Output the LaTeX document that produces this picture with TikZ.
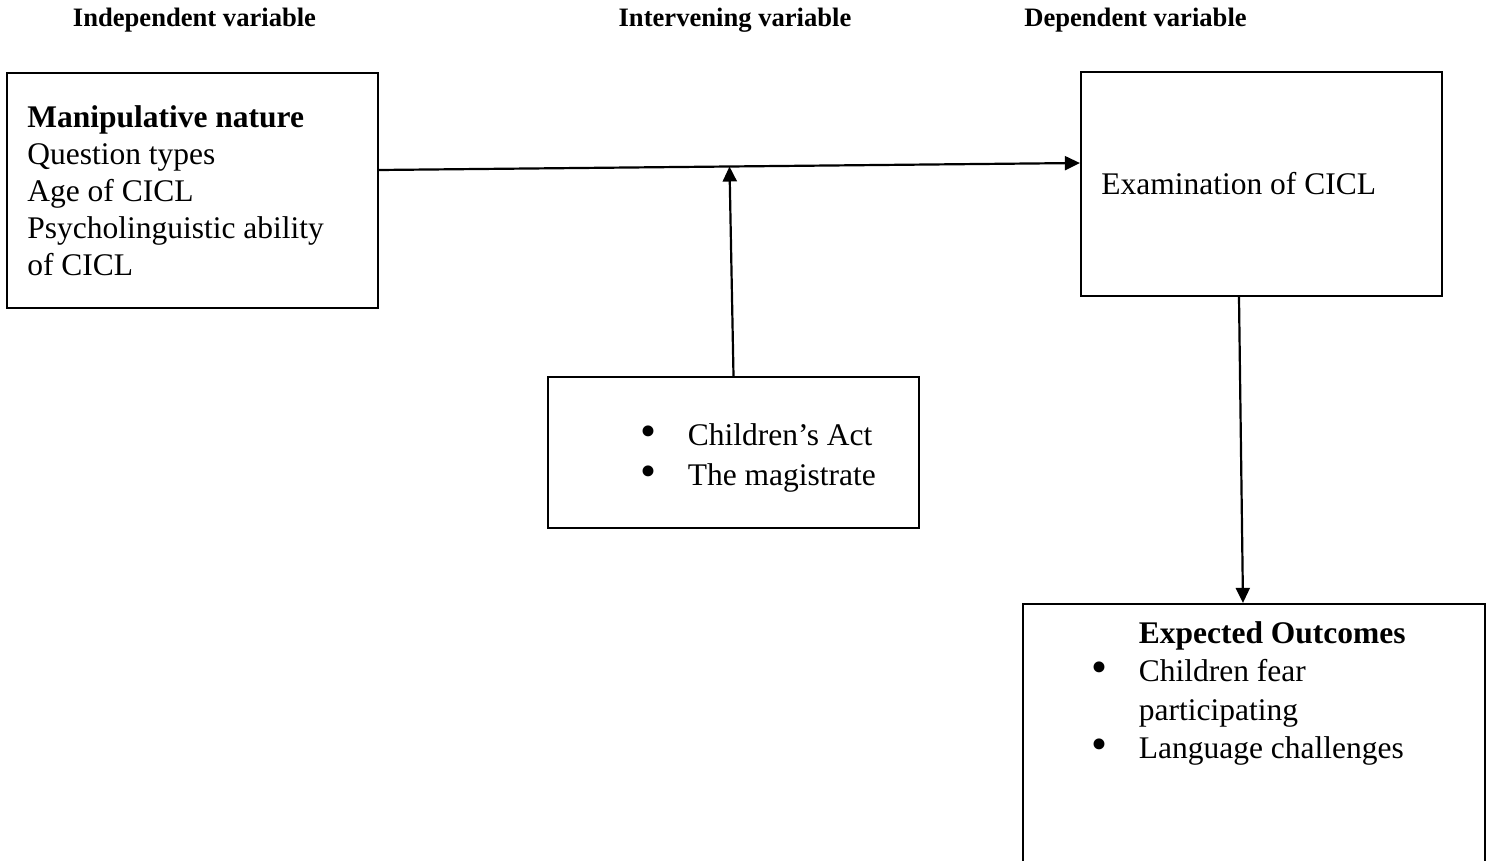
\documentclass[tikz,border=0pt]{standalone}
\usepackage{fontspec}
\setmainfont{Liberation Serif}
\usetikzlibrary{arrows.meta,positioning}

\newcommand{\itembul}{\makebox[23.5pt][l]{\raisebox{-0.6pt}{\scalebox{1.45}{\textbullet}}}}

\begin{document}
\begin{tikzpicture}[%
      x=0.5pt, y=-0.5pt,
      box/.style={draw=black, line width=1.1pt, rectangle, inner sep=0pt},
      body/.style={font=\fontsize{15.75}{18.5}\selectfont, align=left, inner sep=0pt},
      head/.style={font=\fontsize{13.3}{16}\selectfont\bfseries, inner sep=0pt},
      link/.style={line width=1.1pt, -{Triangle[length=7.5pt,width=7pt]}},
      ]
      \useasboundingbox (0,0) rectangle (1490,861);
      \clip (0,0) rectangle (1490,861);

      \node[head] (indhead) at (194.5,20) {Independent variable};
      \node[head] (inthead) at (735,20) {Intervening variable};
      \node[head] (dephead) at (1135.5,20) {Dependent variable};

      \node[box, minimum width=185.5pt, minimum height=117.5pt] (ind) at (192.5,190.5) {};
      \node[box, minimum width=180.5pt, minimum height=112pt] (exam) at (1261.5,184) {};
      \node[box, minimum width=185.5pt, minimum height=75.5pt] (mid) at (733.5,452.5) {};
      \node[box, minimum width=231pt, minimum height=148pt] (out) at (1254,752) {};

      \node[body, anchor=west] (indtxt) at ([xshift=10.5pt]ind.west)
        {\textbf{Manipulative nature}\\Question types\\Age of CICL\\Psycholinguistic ability\\of CICL};
      \node[body, anchor=west] (examtxt) at ([xshift=10.5pt]exam.west) {Examination of CICL};
      \node[body, anchor=west, font=\fontsize{15.75}{20}\selectfont] (midtxt)
        at ([xshift=46.75pt, yshift=-2.75pt]mid.west)
        {\itembul Children’s Act\\\itembul The magistrate};
      \node[body, anchor=north west, font=\fontsize{15.75}{19.25}\selectfont] (outtxt)
        at ([xshift=34.75pt, yshift=-9pt]out.north west)
        {\hspace*{23.5pt}\textbf{Expected Outcomes}\\\itembul Children fear\\\hspace*{23.5pt}participating\\\itembul Language challenges};

      \draw[link] ([yshift=10.25pt]ind.east) -- coordinate[pos=0.5] (join) ([yshift=10.5pt]exam.west);
      \draw[link] (mid.north) -- (join);
      \draw[link] ([xshift=-11.25pt]exam.south) -- ([xshift=-5.5pt]out.north);
\end{tikzpicture}
\end{document}
